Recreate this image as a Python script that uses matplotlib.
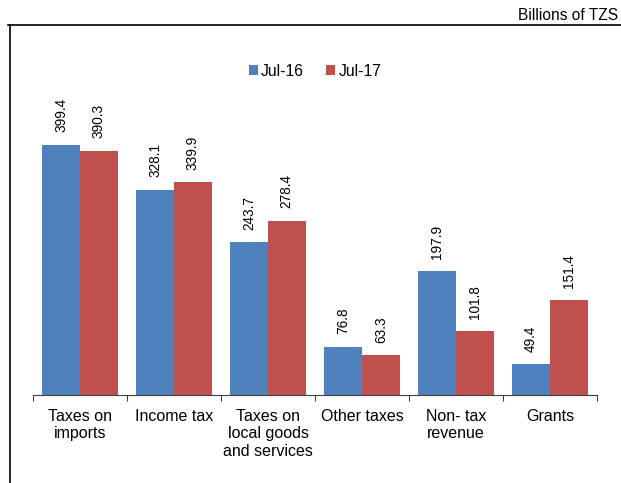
import matplotlib.pyplot as plt
import numpy as np

plt.rcParams['font.family'] = ['Liberation Sans', 'DejaVu Sans']

categories = ["Taxes on\nimports", "Income tax", "Taxes on\nlocal goods\nand services",
              "Other taxes", "Non- tax\nrevenue", "Grants"]
jul16 = [399.4, 328.1, 243.7, 76.8, 197.9, 49.4]
jul17 = [390.3, 339.9, 278.4, 63.3, 101.8, 151.4]

W, H = 621, 483
fig = plt.figure(figsize=(W / 100, H / 100), dpi=100)

# outer frame: top and left lines only
fig.add_artist(plt.Line2D([8 / W, 1], [1 - 25 / H, 1 - 25 / H], color="black", lw=1.2))
fig.add_artist(plt.Line2D([10 / W, 10 / W], [0, 1 - 25 / H], color="black", lw=1.2))
fig.text(618 / W, 1 - 15 / H, "Billions of TZS", ha="right", va="center", fontsize=11.2)

ax = fig.add_axes([33 / W, (H - 395) / H, (597 - 33) / W, (395 - 82) / H])
x = np.arange(len(categories))
bw = 0.4
b1 = ax.bar(x - bw / 2, jul16, bw, color="#4F81BD", label="Jul-16")
b2 = ax.bar(x + bw / 2, jul17, bw, color="#C0504D", label="Jul-17")

for bars, vals in ((b1, jul16), (b2, jul17)):
    for b, v in zip(bars, vals):
        ax.annotate(f"{v:.1f}", (b.get_x() + b.get_width() / 2, v),
                    xytext=(0, 9), textcoords="offset points",
                    ha="center", va="bottom", rotation=90, fontsize=9.8)

ax.set_xlim(-0.5, len(categories) - 0.5)
ax.set_ylim(0, 500)
ax.set_yticks([])
for s in ("top", "right", "left"):
    ax.spines[s].set_visible(False)
ax.spines["bottom"].set_color("#404040")

ax.set_xticks(np.arange(-0.5, len(categories), 1.0))
ax.set_xticklabels([])
ax.tick_params(axis="x", direction="out", length=4, color="#404040")
ax.set_xticks(x, minor=True)
ax.set_xticklabels(categories, minor=True, fontsize=11.5, linespacing=1.2)
ax.tick_params(axis="x", which="minor", length=0, pad=10)

ax.legend(loc="center", bbox_to_anchor=(0.5, (395 - 71) / (395 - 82)), ncol=2,
          frameon=False, fontsize=11.3, handlelength=0.6, handleheight=0.6,
          handletextpad=0.2, columnspacing=1.4)

fig.savefig("out.png", dpi=100)
